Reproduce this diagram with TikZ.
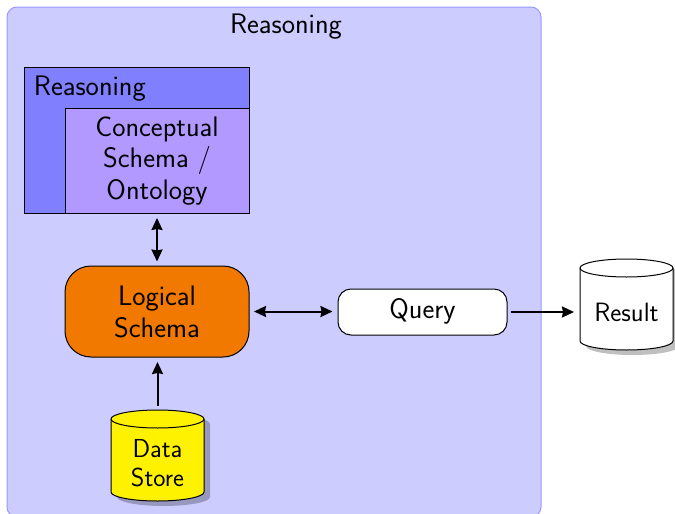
\documentclass[tikz,border=0pt]{standalone}
\usepackage{fontspec}
\setsansfont{Latin Modern Sans}
\usetikzlibrary{calc,arrows.meta}
\definecolor{outerfill}{HTML}{CCCCFF}
\definecolor{outerline}{HTML}{9999FF}
\definecolor{reasonfill}{HTML}{8080FF}
\definecolor{conceptfill}{HTML}{B299FF}
\definecolor{logicfill}{HTML}{F27900}
\definecolor{storefill}{HTML}{FFF200}
\newcommand{\cylpath}[3]{
  ($(#1.north west)+(#2,9+#3)$) -- ($(#1.south west)+(#2,-9+#3)$)
  arc[start angle=180,end angle=360,x radius=46.5pt,y radius=9pt]
  -- ($(#1.north east)+(#2,9+#3)$)
  arc[start angle=0,end angle=180,x radius=46.5pt,y radius=9pt] -- cycle}
\tikzset{
  x=1pt,y=-1pt,
  every node/.style={font=\sffamily\fontsize{28.2}{31.5}\selectfont,align=center,inner sep=0pt,outer sep=0pt,text=black},
  boxnode/.style={draw=black,line width=1pt,minimum width=#1},
  cylbox/.style={minimum width=93pt,minimum height=91pt},
  cylline/.style={draw=black,line width=1pt},
  cylshadow/.style={fill=black,fill opacity=0.25},
  link/.style={line width=2pt,-{Stealth[inset=1pt,length=12pt,width=11pt]}},
  dlink/.style={line width=2pt,{Stealth[inset=1pt,length=12pt,width=11pt]}-{Stealth[inset=1pt,length=12pt,width=11pt]}},
}
\begin{document}
\begin{tikzpicture}
\useasboundingbox (0,0) rectangle (675,514);
\begin{scope}
\clip (0,0) rectangle (675,514);
\node[draw=outerline,line width=1pt,fill=outerfill,rounded corners=10pt,minimum width=534pt,minimum height=510pt,anchor=north west] (outer) at (7,7) {};
\end{scope}
\node (outertitle) at (286,27) {Reasoning};
\node[boxnode=225pt,minimum height=146pt,fill=reasonfill,anchor=north west] (reason) at (24,67) {};
\node[anchor=base west] (reasontitle) at (34,95) {Reasoning};
\node[boxnode=184pt,minimum height=105pt,fill=conceptfill,anchor=north west] (concept) at (65,108) {};
\node[anchor=center] (concepttext) at (157,161) {Conceptual\\Schema /\\Ontology};
\node[boxnode=184pt,minimum height=91pt,fill=logicfill,rounded corners=26pt,anchor=north west] (logic) at (65,266) {};
\node (logictext) at (157,312) {Logical\\Schema};
\node[boxnode=169pt,minimum height=46pt,fill=white,rounded corners=13pt,anchor=north west] (query) at (338,289) {};
\node (querytext) at (422.5,311.5) {Query};
\node[cylbox] (store) at (157.5,455.5) {};
\fill[cylshadow] \cylpath{store}{6}{5};
\filldraw[cylline,fill=storefill] \cylpath{store}{0}{0};
\draw[cylline] ($(store.north west)+(0,9)$) arc[start angle=180,end angle=360,x radius=46.5pt,y radius=9pt];
\node[font=\sffamily\fontsize{26}{29}\selectfont] (storetext) at (157.5,463.5) {Data\\Store};
\node[cylbox] (result) at (626.5,304.5) {};
\fill[cylshadow] \cylpath{result}{6}{5};
\filldraw[cylline,fill=white] \cylpath{result}{0}{0};
\draw[cylline] ($(result.north west)+(0,9)$) arc[start angle=180,end angle=360,x radius=46.5pt,y radius=9pt];
\node[font=\sffamily\fontsize{26.5}{29}\selectfont] (resulttext) at (626.5,312) {Result};
\coordinate (a1) at ([yshift=-5pt]concepttext |- concept.south);
\coordinate (a2) at ([yshift=4.5pt]logictext |- logic.north);
\draw[dlink] (a1) -- (a2);
\coordinate (b1) at ([xshift=5pt]logic.east);
\coordinate (b2) at ([xshift=-5.5pt]query.west);
\draw[dlink] (b1) -- (b2 |- b1);
\coordinate (d1) at ([yshift=4.5pt]store.north);
\coordinate (d2) at ([yshift=-5pt]logic.south);
\draw[link] (d1) -- (d2 -| d1);
\coordinate (e1) at ([xshift=3.5pt]query.east);
\coordinate (e2) at ([xshift=-6pt]result.west);
\draw[link] (e1) -- (e2 |- e1);
\end{tikzpicture}
\end{document}
